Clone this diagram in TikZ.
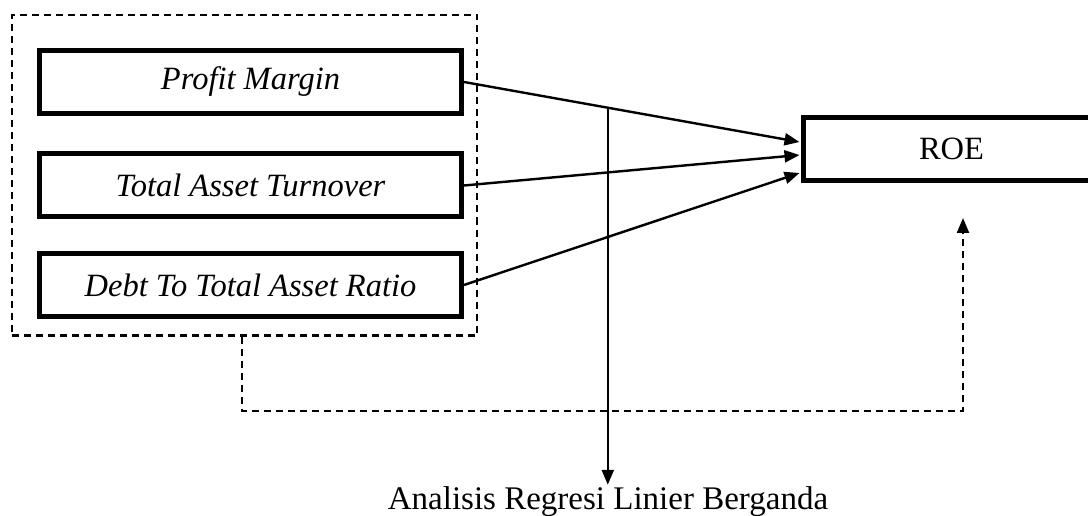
\documentclass[tikz,border=0pt]{standalone}
\usepackage{fontspec}
\setmainfont{Liberation Serif}
\usetikzlibrary{arrows.meta,calc}
\begin{document}
\begin{tikzpicture}[x=1pt,y=-1pt,
  varbox/.style={draw,line width=5pt,minimum width=422pt,minimum height=63pt,inner sep=0pt,font=\fontsize{32.5}{38}\selectfont\itshape},
  roebox/.style={draw,line width=5pt,minimum width=297pt,minimum height=62.5pt,inner sep=0pt,font=\fontsize{32.5}{38}\selectfont},
  grpbox/.style={draw,line width=2.2pt,dash pattern=on 7pt off 5pt,minimum width=465pt,minimum height=320.5pt,inner sep=0pt},
  conn/.style={line width=2.4pt,-{Triangle[length=15pt,width=12pt]}},
  fb/.style={line width=2.2pt,dash pattern=on 7pt off 5pt,-{Triangle[length=15pt,width=12pt]}},
  lbl/.style={inner sep=0pt,font=\fontsize{33}{38}\selectfont}
]
\useasboundingbox (0,0) rectangle (1088,516);
\begin{scope}
\clip (0,0) rectangle (1088,516);
\node[grpbox] (grp) at (244.5,175.25) {};
\node[varbox] (pm) at (250.5,82) {Profit Margin};
\node[varbox] (tat) at (250.5,185.5) {Total Asset Turnover};
\node[varbox] (dtar) at (250.5,285) {Debt To Total Asset Ratio};
\node[roebox] (roe) at (951.5,149) {ROE};
\coordinate (t1) at ($(roe.west)+(-1,-7)$);
\coordinate (t2) at ($(roe.west)+(-1,6)$);
\coordinate (t3) at ($(roe.west)+(-1,24)$);
\draw[conn] (pm.east) -- coordinate[pos=0.4286] (split) (t1);
\draw[conn] (tat.east) -- (t2);
\draw[conn] (dtar.east) -- (t3);
\node[lbl] (arlb) at (608,502) {Analisis Regresi Linier Berganda};
\coordinate (artip) at ($(split |- arlb.north)+(0,-2)$);
\draw[conn] (split) -- (artip);
\coordinate (fbtip) at (963,218);
\coordinate (fbbase) at (241.7,410.7);
\draw[fb] (grp.south -| fbbase) -- (fbbase) -| (fbtip);
\end{scope}
\end{tikzpicture}
\end{document}
